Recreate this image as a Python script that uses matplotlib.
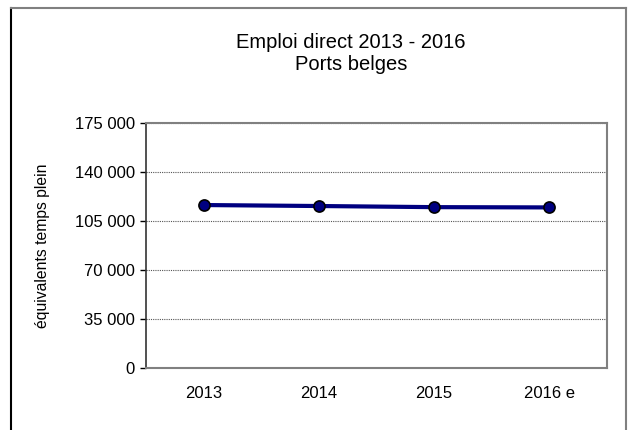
import matplotlib.pyplot as plt
from matplotlib.lines import Line2D
from matplotlib.ticker import FuncFormatter

plt.rcParams['font.family'] = ['Liberation Sans', 'DejaVu Sans']

# data
years = ["2013", "2014", "2015", "2016 e"]
emplois = [116400, 115700, 114900, 114700]
yticks = [0, 35000, 70000, 105000, 140000, 175000]

fig = plt.figure(figsize=(6.33, 4.3), dpi=100)
ax = fig.add_axes([146/633, 62/430, 461/633, 245/430])

x = range(len(years))
ax.plot(x, emplois, color='#000080', linewidth=3, marker='o', markersize=8,
        markerfacecolor='#000080', markeredgecolor='black', markeredgewidth=1.2,
        zorder=3)

ax.set_xlim(-0.5, len(years) - 0.5)
ax.set_ylim(0, 175000)
ax.set_yticks(yticks)
ax.yaxis.set_major_formatter(FuncFormatter(lambda v, p: f"{int(v):,}".replace(",", " ")))
ax.set_xticks(list(x))
ax.set_xticklabels(years)
ax.tick_params(axis='x', length=0, pad=13, labelsize=12)
ax.tick_params(axis='y', length=4, direction='out', width=1, pad=4, labelsize=12)

ax.grid(axis='y', color='#555555', linestyle=(0, (1, 1)), linewidth=0.8)
ax.set_axisbelow(True)

for side in ['top', 'right', 'bottom']:
    ax.spines[side].set_color('#808080')
    ax.spines[side].set_linewidth(1.5)
ax.spines['left'].set_color('#333333')
ax.spines['left'].set_linewidth(1.2)

ax.set_ylabel("équivalents temps plein", fontsize=11.3, labelpad=18)

fig.text(351/633, 1 - 43/430, "Emploi direct 2013 - 2016", ha='center', va='center', fontsize=14.5)
fig.text(351/633, 1 - 65/430, "Ports belges", ha='center', va='center', fontsize=14.5)

# outer chart frame (partly cut off in the reference)
fig.add_artist(Line2D([10.5/633, 10.5/633], [0, 1 - 8/430], transform=fig.transFigure,
                      color='black', linewidth=1.5))
fig.add_artist(Line2D([10.5/633, 626/633], [1 - 8/430, 1 - 8/430], transform=fig.transFigure,
                      color='#808080', linewidth=1.5))
fig.add_artist(Line2D([626/633, 626/633], [0, 1 - 8/430], transform=fig.transFigure,
                      color='#808080', linewidth=1.5))

fig.savefig("out.png", dpi=100)
